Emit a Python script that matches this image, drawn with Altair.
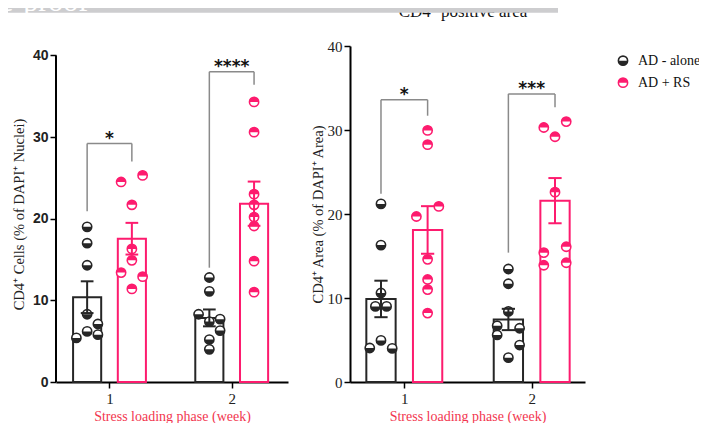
import altair as alt
import pandas as pd

GROUPS = ["AD - alone", "AD + RS"]
COLORS = ["#262626", "#fd1b6e"]
WEEKS = [1, 2]
Y_TICKS = [0, 10, 20, 30, 40]
X_TITLE = "Stress loading phase (week)"

# ---------- Panel A : CD4+ cells (% of DAPI+ nuclei) ----------
cells_alone_w1 = [19.0, 17.0, 14.3, 8.3, 7.1, 6.2, 5.8, 5.4]
cells_alone_w1_jit = [0, 0, 0, 0, 1, 0, 1, -1]
cells_rs_w1 = [24.5, 25.3, 21.7, 16.3, 14.9, 13.4, 12.9, 11.4]
cells_rs_w1_jit = [-1, 1, 0, 0, 0, -1, 1, 0]
cells_alone_w2 = [12.8, 11.1, 8.3, 7.4, 7.7, 6.3, 5.2, 4.0]
cells_alone_w2_jit = [0, 0, -1, 0, 1, 1, 0, 0]
cells_rs_w2 = [34.3, 30.6, 23.0, 21.7, 20.2, 19.1, 14.8, 11.0]
cells_rs_w2_jit = [0, 0, 0, 0, 0, 0, 0, 0]

cells_br_left = [20.9, 14.0]
cells_br_top = [29.2, 38.0]
cells_br_right = [27.0, 36.4]
cells_stars = ["*", "****"]
cells_star_y = [30.3, 39.1]

# ---------- Panel B : CD4+ area (% of DAPI+ area) ----------
area_alone_w1 = [21.2, 16.3, 10.6, 9.0, 9.0, 4.95, 4.05, 4.0]
area_alone_w1_jit = [0, 0, 0, -0.5, 0.5, 0, -1, 1]
area_rs_w1 = [29.95, 28.25, 20.9, 19.7, 14.6, 12.2, 11.0, 8.2]
area_rs_w1_jit = [0, 0, 1, -1, 0, 0, 0, 0]
area_alone_w2 = [13.45, 11.7, 8.4, 6.7, 5.6, 6.4, 4.4, 2.9]
area_alone_w2_jit = [0, 0, 0, -1, -1, 1, 1, 0]
area_rs_w2 = [31.0, 30.3, 29.2, 22.6, 16.1, 15.4, 14.2, 13.9]
area_rs_w2_jit = [1, -1, 0, 0, 1, -1, 1, -1]

area_br_left = [22.4, 15.4]
area_br_top = [33.6, 34.3]
area_br_right = [31.7, 32.7]
area_stars = ["*", "***"]
area_star_y = [34.6, 35.4]

HALF_BOTTOM = "M-1,0A1,1,0,0,0,1,0Z"
HALF_TOP = "M-1,0A1,1,0,0,1,1,0Z"
GROUP_SHIFT = 0.183
JIT_STEP = 0.088


def points_frame(series):
    rows = []
    for week, group, vals, jits in series:
        for v, j in zip(vals, jits):
            rows.append({"week": week, "group": group, "value": v, "jit": j})
    return pd.DataFrame(rows)


cells_df = points_frame([
    (1, GROUPS[0], cells_alone_w1, cells_alone_w1_jit),
    (1, GROUPS[1], cells_rs_w1, cells_rs_w1_jit),
    (2, GROUPS[0], cells_alone_w2, cells_alone_w2_jit),
    (2, GROUPS[1], cells_rs_w2, cells_rs_w2_jit),
])
area_df = points_frame([
    (1, GROUPS[0], area_alone_w1, area_alone_w1_jit),
    (1, GROUPS[1], area_rs_w1, area_rs_w1_jit),
    (2, GROUPS[0], area_alone_w2, area_alone_w2_jit),
    (2, GROUPS[1], area_rs_w2, area_rs_w2_jit),
])
cells_br = pd.DataFrame({"week": WEEKS, "yl": cells_br_left, "yt": cells_br_top,
                         "yr": cells_br_right, "stars": cells_stars, "sy": cells_star_y})
area_br = pd.DataFrame({"week": WEEKS, "yl": area_br_left, "yt": area_br_top,
                        "yr": area_br_right, "stars": area_stars, "sy": area_star_y})

color_scale = alt.Scale(domain=GROUPS, range=COLORS)
shape_scale = alt.Scale(domain=GROUPS, range=[HALF_BOTTOM, HALF_TOP])
shift_expr = f"datum.group == '{GROUPS[0]}' ? datum.week - {GROUP_SHIFT} : datum.week + {GROUP_SHIFT}"


def panel(df, br, width, xdom, ymax, ytitle, label_font, label_weight, label_size,
          show_domain, title_pad, extra_layers):
    xscale = alt.Scale(domain=xdom, nice=False, zero=False)
    yscale = alt.Scale(domain=[0, ymax], nice=False, zero=True)
    xaxis = alt.Axis(values=WEEKS, format="d", grid=False, domainColor="black", domainWidth=2,
                     tickColor="black", tickWidth=1.5, tickSize=6, labelFont="Liberation Serif",
                     labelFontSize=15, labelColor="#222", labelPadding=3,
                     titleFont="Liberation Serif", titleFontSize=14, titleFontWeight="normal",
                     titleColor="#f2364f", titlePadding=3)
    yaxis = alt.Axis(values=Y_TICKS, grid=False, domain=show_domain, domainColor="black",
                     domainWidth=2, tickColor="black", tickWidth=1.5, tickSize=6,
                     labelFont=label_font, labelFontWeight=label_weight, labelFontSize=label_size,
                     labelColor="#222", labelPadding=2, titleFont="Liberation Serif",
                     titleFontSize=14.5, titleFontWeight="normal", titleColor="#222",
                     titlePadding=title_pad)

    def X(field):
        return alt.X(f"{field}:Q", scale=xscale, axis=xaxis, title=X_TITLE)

    def Y(field):
        return alt.Y(f"{field}:Q", scale=yscale, axis=yaxis, title=ytitle)

    base = alt.Chart(df).transform_calculate(pos=shift_expr)
    agg = (base.transform_aggregate(mean="mean(value)", se="stderr(value)",
                                    groupby=["week", "group"])
           .transform_calculate(pos=shift_expr)
           .transform_calculate(bl="datum.pos - 0.115", br="datum.pos + 0.115",
                                lo="datum.mean - datum.se", hi="datum.mean + datum.se",
                                cl="datum.pos - 0.052", cr="datum.pos + 0.052", zero="0"))

    bars = agg.mark_rect(fill="white", strokeWidth=2).encode(
        x=X("bl"), x2="br:Q", y=Y("mean"), y2="zero:Q",
        stroke=alt.Stroke("group:N", scale=color_scale, legend=None))

    pts = base.transform_calculate(xp=f"datum.pos + datum.jit * {JIT_STEP}")
    ring = pts.mark_point(shape="circle", filled=False, fill="white", fillOpacity=1, opacity=1,
                          size=85, strokeWidth=1.6).encode(
        x=X("xp"), y=Y("value"),
        stroke=alt.Stroke("group:N", scale=color_scale, legend=None))
    half = pts.mark_point(filled=True, opacity=1, size=85).encode(
        x=X("xp"), y=Y("value"),
        color=alt.Color("group:N", scale=color_scale, legend=None),
        shape=alt.Shape("group:N", scale=shape_scale, legend=None))

    err_v = agg.mark_rule(strokeWidth=2).encode(
        x=X("pos"), y=Y("lo"), y2="hi:Q",
        color=alt.Color("group:N", scale=color_scale, legend=None))
    cap_hi = agg.mark_rule(strokeWidth=2).encode(
        x=X("cl"), x2="cr:Q", y=Y("hi"),
        color=alt.Color("group:N", scale=color_scale, legend=None))
    cap_lo = agg.mark_rule(strokeWidth=2).encode(
        x=X("cl"), x2="cr:Q", y=Y("lo"),
        color=alt.Color("group:N", scale=color_scale, legend=None))

    brb = alt.Chart(br).transform_calculate(xl=f"datum.week - {GROUP_SHIFT}",
                                            xr=f"datum.week + {GROUP_SHIFT}")
    b1 = brb.mark_rule(color="#8a8a8a", strokeWidth=1.5).encode(x=X("xl"), y=Y("yl"), y2="yt:Q")
    b2 = brb.mark_rule(color="#8a8a8a", strokeWidth=1.5).encode(x=X("xl"), x2="xr:Q", y=Y("yt"))
    b3 = brb.mark_rule(color="#8a8a8a", strokeWidth=1.5).encode(x=X("xr"), y=Y("yr"), y2="yt:Q")
    stars = brb.mark_text(font="DejaVu Sans", fontWeight="bold", fontSize=17, color="#111",
                          baseline="alphabetic", dy=9).encode(
        x=X("week"), y=Y("sy"), text="stars:N")

    layers = list(extra_layers) + [bars, ring, half, err_v, cap_hi, cap_lo, b1, b2, b3, stars]
    if not show_domain:
        axis_line = alt.Chart(pd.DataFrame({"a": [0], "b": [40]})).mark_rule(
            color="black", strokeWidth=2).encode(x=alt.value(0), y=Y("a"), y2="b:Q")
        layers.append(axis_line)
    return alt.layer(*layers).properties(width=width, height=336)


# decorations at the top of the page (cropped title and pre-proof banner)
title_layer = alt.Chart(pd.DataFrame({"t": ["CD4\u207a positive area"]})).mark_text(
    font="Liberation Serif", fontSize=17, color="#111", align="center",
    baseline="alphabetic").encode(text="t:N", x=alt.value(113), y=alt.value(-29))
banner = alt.Chart(pd.DataFrame({"t": ["e-proof"]})).mark_rect(color="#cdcdcf").encode(
    x=alt.value(-350), x2=alt.value(208), y=alt.value(-100), y2=alt.value(-33.3))
banner_text = alt.Chart(pd.DataFrame({"t": ["e-proof"]})).mark_text(
    font="Liberation Serif", fontSize=30, color="white", align="left",
    baseline="alphabetic").encode(text="t:N", x=alt.value(-350), y=alt.value(-35))

left = panel(cells_df, cells_br, 232, [0.5622, 2.4607], 41.15,
             "CD4\u207a Cells (% of DAPI\u207a Nuclei)", "Liberation Sans", "bold", 14,
             False, 6, [])
right = panel(area_df, area_br, 235, [0.5738, 2.4184], 40,
              "CD4\u207a Area (% of DAPI\u207a Area)", "Liberation Serif", "normal", 15,
              True, 2, [title_layer, banner, banner_text])

leg_df = pd.DataFrame({"group": GROUPS})
leg_y = alt.Y("group:N", scale=alt.Scale(domain=GROUPS, range=[14.7, 36.7], padding=0), axis=None)
leg_ring = alt.Chart(leg_df).mark_point(shape="circle", filled=False, fill="white", fillOpacity=1,
                                        opacity=1, size=85, strokeWidth=1.6).encode(
    x=alt.value(-24), y=leg_y, stroke=alt.Stroke("group:N", scale=color_scale, legend=None))
leg_half = alt.Chart(leg_df).mark_point(filled=True, opacity=1, size=85).encode(
    x=alt.value(-24), y=leg_y, color=alt.Color("group:N", scale=color_scale, legend=None),
    shape=alt.Shape("group:N", scale=shape_scale, legend=None))
leg_text = alt.Chart(leg_df).mark_text(font="Liberation Serif", fontSize=14, color="#111",
                                       align="left", baseline="middle").encode(
    x=alt.value(-9), y=leg_y, text="group:N")
legend = alt.layer(leg_ring, leg_half, leg_text).properties(width=40, height=60)

chart = alt.hconcat(left, right, legend, spacing=62, bounds="flush").properties(
    padding={"left": -8, "top": -62, "right": -2, "bottom": 0}
).configure_view(stroke=None)

chart.save("out.html", embed_options={"renderer": "svg", "actions": False})
